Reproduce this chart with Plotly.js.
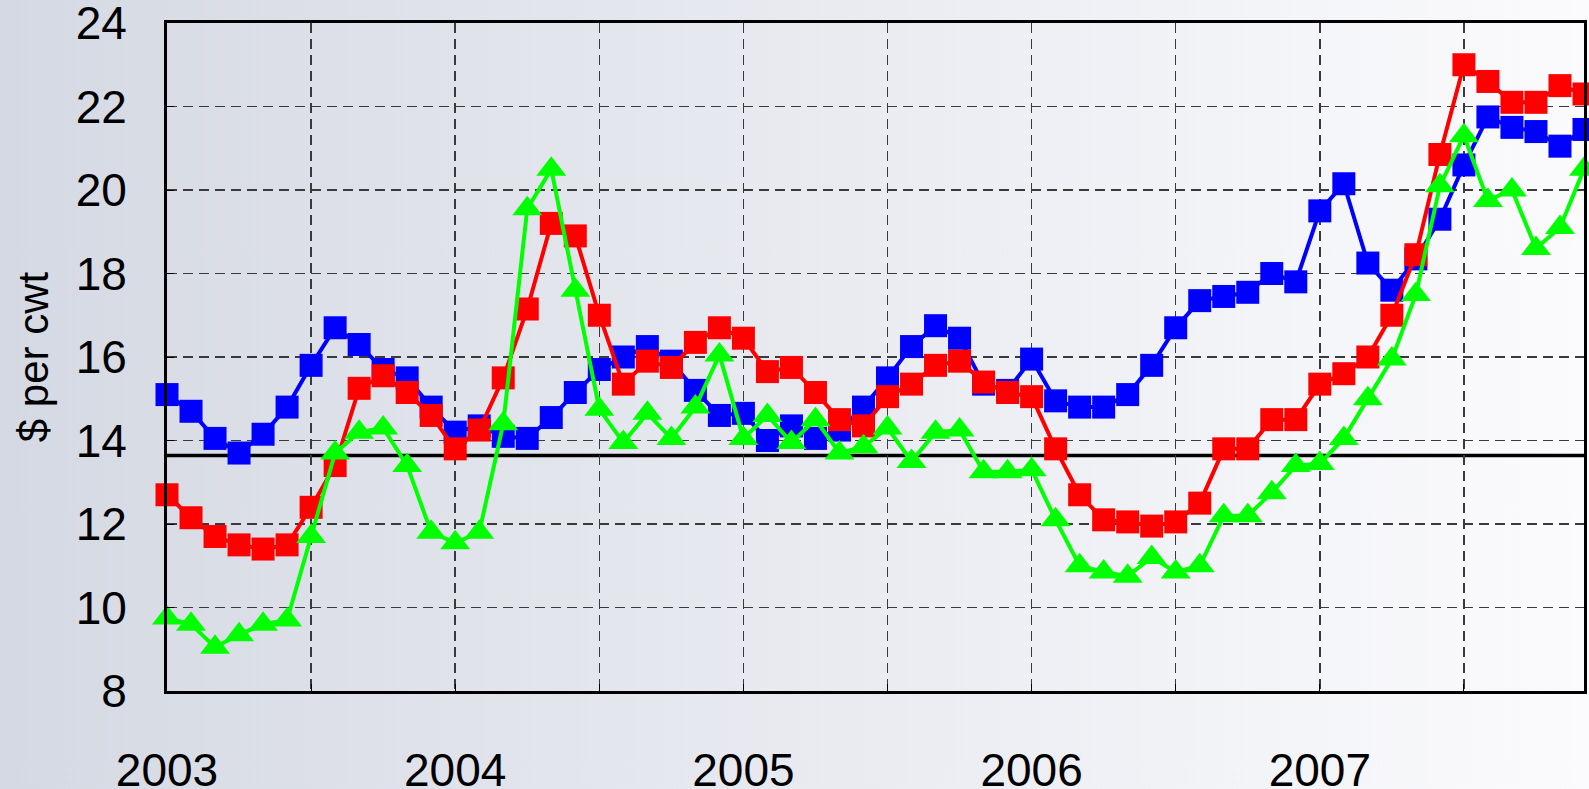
<!DOCTYPE html>
<html lang="en">

<head>
    <meta charset="UTF-8">
    <title>$ per cwt, 2003-2007</title>
    <script src="https://cdn.plot.ly/plotly-3.0.1.min.js"></script>
    <style>
        html,
        body {
            margin: 0;
            padding: 0;
            width: 1589px;
            height: 789px;
            overflow: hidden;
            background: linear-gradient(to right, #d5d9e3 0%, #e8eaf0 50%, #fbfbfd 100%);
        }

        #chart {
            width: 1589px;
            height: 789px;
        }
    </style>
</head>

<body>
    <div id="chart"></div>

    <script>
        // Monthly prices, Jan 2003 .. Dec 2007 ($ per cwt)
        const years = ['2003', '2004', '2005', '2006', '2007'];

        const blueSeries = [
            15.1, 14.7, 14.05, 13.7, 14.15, 14.8, 15.8, 16.7, 16.3, 15.7, 15.5, 14.8,
            14.2, 14.35, 14.1, 14.05, 14.55, 15.15, 15.7, 16.0, 16.25, 15.9, 15.2, 14.6,
            14.65, 14.0, 14.35, 14.05, 14.25, 14.8, 15.5, 16.25, 16.75, 16.45, 15.35, 15.2,
            15.95, 14.95, 14.8, 14.8, 15.1, 15.8, 16.7, 17.35, 17.45, 17.55, 18.0, 17.8,
            19.5, 20.15, 18.25, 17.6, 18.35, 19.3, 20.6, 21.75, 21.5, 21.4, 21.05, 21.45
        ];

        const redSeries = [
            12.7, 12.15, 11.7, 11.5, 11.4, 11.5, 12.4, 13.4, 15.25, 15.55, 15.15, 14.6,
            13.8, 14.25, 15.5, 17.15, 19.2, 18.9, 17.0, 15.35, 15.9, 15.75, 16.35, 16.7,
            16.45, 15.65, 15.75, 15.15, 14.5, 14.35, 15.05, 15.35, 15.8, 15.9, 15.4, 15.15,
            15.05, 13.8, 12.7, 12.1, 12.05, 11.95, 12.05, 12.5, 13.8, 13.8, 14.5, 14.5,
            15.35, 15.6, 16.0, 17.0, 18.45, 20.85, 23.0, 22.6, 22.1, 22.1, 22.5, 22.3
        ];

        const greenSeries = [
            9.75, 9.6, 9.05, 9.35, 9.6, 9.7, 11.7, 13.7, 14.2, 14.3, 13.4, 11.8,
            11.55, 11.8, 14.4, 19.55, 20.5, 17.6, 14.75, 13.95, 14.65, 14.05, 14.8, 16.05,
            14.05, 14.6, 13.95, 14.5, 13.7, 13.85, 14.3, 13.5, 14.2, 14.25, 13.25, 13.25,
            13.3, 12.1, 11.0, 10.85, 10.75, 11.2, 10.85, 11.0, 12.2, 12.2, 12.75, 13.4,
            13.45, 14.05, 15.0, 15.95, 17.5, 20.1, 21.3, 19.75, 20.0, 18.6, 19.1, 20.5
        ];

        // Horizontal reference level
        const referenceLevel = 13.64;

        const yTicks = [8, 10, 12, 14, 16, 18, 20, 22, 24];

        // Month index for every point (0 = Jan 2003)
        const monthIndex = blueSeries.map((v, i) => i);

        // Grid every half year, a label every January
        const tickVals = [];
        const tickText = [];
        years.forEach((y, k) => {
            tickVals.push(k * 12, k * 12 + 6);
            tickText.push(y, '');
        });

        const fontFamily = 'Liberation Sans, Arial, sans-serif';

        function makeTrace(values, color, symbol, size) {
            return {
                x: monthIndex,
                y: values,
                type: 'scatter',
                mode: 'lines+markers',
                line: { color: color, width: 4 },
                marker: { color: color, symbol: symbol, size: size },
                cliponaxis: false,
                showlegend: false,
                hoverinfo: 'y'
            };
        }

        const traces = [
            makeTrace(blueSeries, '#0000ff', 'square', 23),
            makeTrace(redSeries, '#ff0000', 'square', 23),
            makeTrace(greenSeries, '#00ff00', 'triangle-up', 26)
        ];

        const gridStyle = {
            showgrid: true,
            gridcolor: '#3a3a3a',
            gridwidth: 1.5,
            griddash: '10px,6px',
            showline: true,
            linecolor: '#000',
            linewidth: 3,
            mirror: true,
            zeroline: false,
            fixedrange: true,
            ticks: 'inside',
            ticklen: 7,
            tickcolor: '#000',
            tickfont: { size: 46 },
            ticklabeloverflow: 'allow'
        };

        const layout = {
            width: 1589,
            height: 789,
            margin: { l: 167, r: 5, t: 23, b: 98 },
            paper_bgcolor: 'rgba(0,0,0,0)',
            plot_bgcolor: 'rgba(0,0,0,0)',
            font: { family: fontFamily, color: '#000' },
            xaxis: Object.assign({}, gridStyle, {
                range: [0, 59],
                tickvals: tickVals,
                ticktext: tickText,
                ticklabelstandoff: 37
            }),
            yaxis: Object.assign({}, gridStyle, {
                range: [8, 24],
                tickvals: yTicks,
                ticklabelstandoff: 28,
                title: {
                    text: '$ per cwt',
                    font: { size: 42 },
                    standoff: 14
                }
            }),
            shapes: [{
                type: 'line',
                xref: 'paper',
                yref: 'y',
                x0: 0,
                x1: 1,
                y0: referenceLevel,
                y1: referenceLevel,
                line: { color: '#000', width: 3.5 },
                layer: 'between'
            }]
        };

        Plotly.newPlot('chart', traces, layout, { displayModeBar: false, staticPlot: true });
    </script>
</body>

</html>
